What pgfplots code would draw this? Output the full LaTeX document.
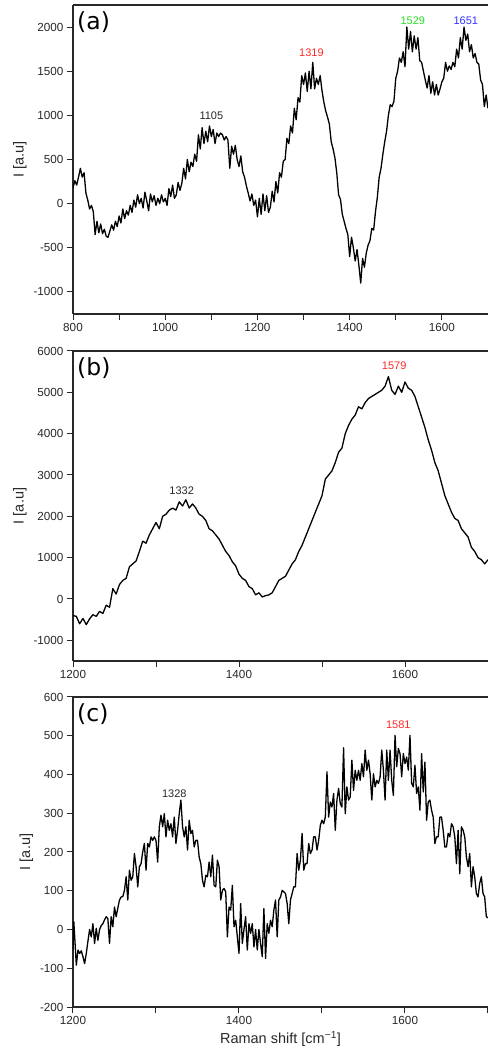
\documentclass[border=0pt]{standalone}
\usepackage{fontspec}
\setmainfont{Liberation Sans}
\newfontfamily\djv{DejaVu Sans}
\usepackage{pgfplots}
\usepackage{pgfplotstable}
\pgfplotsset{compat=1.18}
\definecolor{pkred}{RGB}{255,40,40}
\definecolor{pkgreen}{RGB}{40,225,40}
\definecolor{pkblue}{RGB}{50,50,255}
\definecolor{ax}{RGB}{40,40,40}
\pgfplotsset{
  spec/.style={
    scale only axis, width=415pt, anchor=south west,
    axis x line*=box, axis y line*=left,
    xtick pos=lower, ytick pos=lower,
    tick align=outside, major tick length=6pt,
    axis line style={ax, line width=1.1pt},
    every tick/.style={ax, line width=1pt},
    tick label style={font=\fontsize{11.7}{13}\selectfont, text=ax},
    label style={font=\fontsize{14.5}{16}\selectfont, text=ax},
    /pgf/number format/assume math mode=true,
    /pgf/number format/1000 sep={},
    ylabel={I [a.u]},
    clip=true,
  },
}
\tikzset{
  peak/.style={font=\fontsize{11}{12}\selectfont, inner sep=0pt},
  panel/.style={font=\djv\fontsize{23.5}{26}\selectfont, anchor=base west, inner sep=0pt, xshift=4pt, yshift=-24.5pt},
}
\pgfplotstableread{
x y
800 180
804 260
808 210
812 300
816 400
820 300
824 350
828 120
832 40
836 -60
840 -20
844 -90
848 -350
852 -200
856 -330
860 -230
864 -340
868 -290
872 -370
876 -380
880 -310
884 -240
888 -300
892 -200
896 -260
900 -140
904 -220
908 -60
912 -170
916 -80
920 -130
924 -20
928 -100
932 40
936 -40
940 100
944 0
948 60
952 -50
956 130
960 30
964 -80
968 110
972 20
976 90
980 -20
984 60
988 0
992 100
996 20
1000 60
1004 -20
1008 170
1012 80
1016 210
1020 60
1024 100
1028 240
1032 150
1036 230
1040 400
1044 280
1048 500
1052 360
1056 470
1060 420
1064 560
1068 480
1072 780
1076 620
1080 860
1084 680
1088 820
1092 700
1096 880
1100 760
1104 840
1108 680
1112 800
1116 760
1120 800
1124 780
1128 720
1132 760
1136 720
1140 400
1144 650
1148 560
1152 660
1156 500
1160 420
1164 540
1168 360
1172 300
1176 200
1180 120
1184 30
1188 110
1192 -20
1196 40
1200 -150
1204 60
1208 -120
1212 110
1216 -80
1220 90
1224 -100
1228 -40
1232 140
1236 20
1240 250
1244 120
1248 350
1252 300
1256 480
1260 500
1264 740
1268 680
1272 880
1276 800
1280 1080
1284 950
1288 1200
1292 1150
1296 1450
1300 1350
1304 1480
1308 1270
1312 1500
1316 1300
1320 1600
1324 1300
1328 1420
1332 1350
1336 1450
1340 1280
1344 1150
1348 1050
1352 980
1356 900
1360 700
1364 620
1368 520
1372 350
1376 100
1380 50
1384 -120
1388 -200
1392 -280
1396 -350
1400 -600
1404 -380
1408 -500
1412 -650
1416 -520
1420 -700
1424 -900
1428 -620
1432 -720
1436 -560
1440 -470
1444 -420
1448 -280
1452 -300
1456 -90
1460 70
1464 300
1468 400
1472 560
1476 700
1480 820
1484 1000
1488 1120
1492 1100
1496 1160
1500 1420
1504 1500
1508 1650
1512 1600
1516 1720
1520 1550
1524 2000
1528 1750
1532 1950
1536 1720
1540 1900
1544 1750
1548 1880
1552 1620
1556 1600
1560 1500
1564 1400
1568 1310
1572 1450
1576 1250
1580 1380
1584 1230
1588 1350
1592 1230
1596 1300
1600 1380
1604 1420
1608 1600
1612 1500
1616 1560
1620 1520
1624 1600
1628 1550
1632 1750
1636 1650
1640 1880
1644 1750
1648 2000
1652 1850
1656 1920
1660 1720
1664 1800
1668 1650
1672 1700
1676 1600
1680 1580
1684 1400
1688 1350
1692 1100
1696 1230
1700 1080
}\dataA
\pgfplotstableread{
x y
1200 -400
1204 -420
1208 -600
1212 -470
1216 -620
1220 -480
1224 -380
1228 -420
1232 -300
1236 -350
1240 -150
1244 -200
1248 250
1252 120
1256 350
1260 450
1264 500
1268 780
1272 850
1276 920
1280 1150
1284 1400
1288 1350
1292 1550
1296 1700
1300 1850
1304 1700
1308 2000
1312 2050
1316 2150
1320 2200
1324 2150
1328 2350
1332 2250
1336 2400
1340 2200
1344 2300
1348 2200
1352 2050
1356 2000
1360 1900
1364 1700
1368 1650
1372 1550
1376 1450
1380 1300
1384 1150
1388 1050
1392 900
1396 800
1400 600
1404 500
1408 450
1412 300
1416 250
1420 100
1424 150
1428 50
1432 80
1436 100
1440 150
1444 300
1448 450
1452 500
1456 550
1460 700
1464 850
1468 950
1472 1150
1476 1300
1480 1500
1484 1700
1488 1900
1492 2100
1496 2300
1500 2500
1504 2900
1508 3000
1512 3100
1516 3300
1520 3550
1524 3650
1528 4000
1532 4200
1536 4350
1540 4450
1544 4650
1548 4600
1552 4750
1556 4850
1560 4900
1564 4950
1568 5000
1572 5050
1576 5150
1580 5380
1584 5050
1588 4950
1592 5150
1596 5000
1600 5250
1604 5100
1608 5050
1612 4900
1616 4650
1620 4400
1624 4150
1628 3850
1632 3600
1636 3300
1640 3100
1644 2800
1648 2500
1652 2300
1656 2100
1660 1950
1664 1900
1668 1700
1672 1600
1676 1500
1680 1250
1684 1150
1688 1000
1692 950
1696 850
1700 950
}\dataB
\pgfplotstableread{
x y
1200 -53
1201 20
1204 -92
1206 -53
1208 -62
1210 -55
1212 -70
1214 -88
1216 -62
1218 -30
1220 0
1222 -19
1224 15
1226 -36
1228 3
1230 -28
1232 0
1234 10
1236 15
1238 25
1240 33
1242 28
1244 -36
1246 33
1248 7
1250 58
1252 33
1254 55
1256 76
1258 84
1260 85
1262 101
1264 136
1266 76
1268 153
1270 127
1272 136
1274 196
1276 162
1278 110
1280 162
1282 170
1284 200
1286 222
1288 153
1290 222
1292 213
1294 239
1296 230
1298 239
1300 230
1302 174
1304 265
1306 295
1308 265
1310 299
1312 239
1314 282
1316 256
1318 273
1320 239
1322 290
1324 222
1326 256
1328 299
1330 334
1332 265
1334 239
1336 265
1338 205
1340 282
1342 248
1344 256
1346 213
1348 230
1350 230
1352 187
1354 170
1356 127
1358 110
1360 140
1362 136
1364 174
1366 136
1368 192
1370 114
1372 110
1374 179
1376 162
1378 76
1380 101
1382 106
1384 97
1386 -19
1388 58
1390 50
1392 114
1394 7
1396 24
1398 -19
1400 -62
1402 67
1404 -36
1406 0
1408 33
1410 -53
1412 15
1414 -10
1416 15
1418 -45
1420 0
1422 -53
1424 0
1426 -36
1428 -70
1430 54
1432 -75
1434 15
1436 -10
1438 24
1440 7
1442 50
1444 76
1446 -19
1448 76
1450 84
1452 101
1454 97
1456 93
1458 67
1460 15
1462 76
1464 93
1466 110
1468 110
1470 196
1472 153
1474 179
1476 248
1478 153
1480 170
1482 170
1484 222
1486 196
1488 205
1490 239
1492 239
1494 205
1496 230
1498 269
1500 282
1502 273
1504 290
1506 407
1508 290
1510 329
1512 316
1514 351
1516 256
1518 334
1520 364
1522 325
1524 316
1526 469
1528 299
1530 368
1532 334
1534 342
1536 437
1538 359
1540 411
1542 385
1544 411
1546 385
1548 428
1550 394
1552 463
1554 411
1556 437
1558 402
1560 334
1562 402
1564 368
1566 385
1568 377
1570 394
1572 463
1574 411
1576 334
1578 463
1580 385
1582 463
1584 385
1586 346
1588 501
1590 420
1592 467
1594 454
1596 394
1598 454
1600 428
1602 445
1604 411
1606 501
1608 377
1610 368
1612 424
1614 351
1616 368
1618 308
1620 454
1622 355
1624 432
1626 282
1628 329
1630 334
1632 308
1634 290
1636 222
1638 239
1640 239
1642 290
1644 290
1646 256
1648 213
1650 213
1652 248
1654 239
1656 273
1658 265
1660 239
1662 170
1664 256
1666 144
1668 265
1670 256
1672 239
1674 187
1676 162
1678 196
1680 110
1682 162
1684 136
1686 93
1688 84
1690 119
1692 136
1694 93
1696 84
1698 33
1700 30
}\dataC
\begin{document}
\begin{tikzpicture}
% panel (a)
\begin{axis}[spec, at={(73pt,748pt)}, height=309pt,
  xmin=800, xmax=1700, ymin=-1250, ymax=2250,
  xtick={800,900,...,1700}, xticklabels={800,,1000,,1200,,1400,,1600,},
  ytick={-1000,-500,...,2000}]
\addplot[black, line width=1.3pt, line join=round] table[x=x,y=y] {\dataA};
\node[peak, text=ax] at (axis cs:1100,1000) {1105};
\node[peak, text=pkred] at (axis cs:1317,1710) {1319};
\node[peak, text=pkgreen] at (axis cs:1537,2072) {1529};
\node[peak, text=pkblue] at (axis cs:1652,2072) {1651};
\node[panel] at (rel axis cs:0,1) {(a)};
\end{axis}
% panel (b)
\begin{axis}[spec, at={(73pt,401pt)}, height=310pt,
  xmin=1200, xmax=1700, ymin=-1500, ymax=6000,
  xtick={1200,1300,...,1700}, xticklabels={1200,,1400,,1600,},
  ytick={-1000,0,...,6000}]
\addplot[black, line width=1.3pt, line join=round] table[x=x,y=y] {\dataB};
\node[peak, text=ax] at (axis cs:1331,2622) {1332};
\node[peak, text=pkred] at (axis cs:1587,5649) {1579};
\node[panel] at (rel axis cs:0,1) {(b)};
\end{axis}
% panel (c)
\begin{axis}[spec, at={(73pt,55pt)}, height=310pt,
  xmin=1200, xmax=1700, ymin=-200, ymax=600,
  xtick={1200,1300,...,1700}, xticklabels={1200,,1400,,1600,},
  ytick={-200,-100,...,600},
  xlabel={Raman shift [cm\textsuperscript{−1}]}]
\addplot[black, line width=1.3pt, line join=round] table[x=x,y=y] {\dataC};
\node[peak, text=ax] at (axis cs:1322,351) {1328};
\node[peak, text=pkred] at (axis cs:1592,529) {1581};
\node[panel] at (rel axis cs:0,1) {(c)};
\end{axis}
\pgfresetboundingbox
\path[use as bounding box] (0,0) rectangle (487pt,1062pt);
\end{tikzpicture}
\end{document}
